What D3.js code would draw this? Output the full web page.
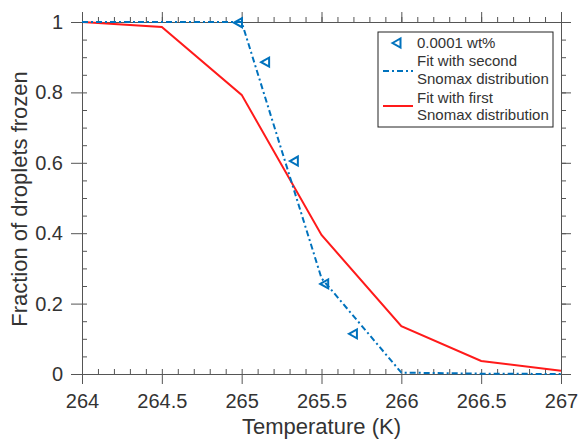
<!DOCTYPE html>
<html>
<head>
<meta charset="utf-8">
<script src="https://cdn.jsdelivr.net/npm/d3@7"></script>
<style>
  body { margin: 0; background: #fff; }
  svg text { font-family: "Liberation Sans", Arial, sans-serif; fill: #333; }
</style>
</head>
<body>
<div id="chart"></div>
<script>
// data
var temps = [264, 264.5, 265, 265.5, 266, 266.5, 267];
var fitFirst = [1.0, 0.986, 0.793, 0.395, 0.136, 0.037, 0.009];
var fitSecond = [1.0, 1.0, 1.0, 0.272, 0.004, 0.001, 0.0];
var obsTemp = [264.98, 265.15, 265.33, 265.52, 265.70];
var obsFrac = [0.998, 0.886, 0.605, 0.256, 0.114];
var xTicks = [264, 264.5, 265, 265.5, 266, 266.5, 267];
var yTicks = [0, 0.2, 0.4, 0.6, 0.8, 1];
var legendLabels = [["0.0001 wt%"], ["Fit with second", "Snomax distribution"], ["Fit with first", "Snomax distribution"]];

var w = 579, h = 440;
var pLeft = 82, pRight = 561, pTop = 22, pBottom = 374;

var svg = d3.select("#chart").append("svg").attr("width", w).attr("height", h);

var x = d3.scaleLinear().domain([264, 267]).range([pLeft, pRight]);
var y = d3.scaleLinear().domain([0, 1]).range([pBottom, pTop]);

var xMinor = d3.range(264, 267.001, 0.1).map(function (d) { return +d.toFixed(1); });
var yMinor = d3.range(0, 1.001, 0.05).map(function (d) { return +d.toFixed(2); });

function style(g) {
  g.select(".domain").attr("stroke", "#555");
  g.selectAll("line").attr("stroke", "#555");
}

// bottom
svg.append("g").attr("transform", "translate(0," + pBottom + ")")
  .call(d3.axisBottom(x).tickValues(xMinor).tickSize(-5).tickSizeOuter(0).tickFormat(""))
  .call(style);
svg.append("g").attr("transform", "translate(0," + pBottom + ")")
  .call(d3.axisBottom(x).tickValues(xTicks).tickSize(10).tickSizeOuter(0).tickPadding(10)
    .tickFormat(function (d) { return String(d); }))
  .call(style)
  .selectAll("text").style("font-size", "20px");
// top
svg.append("g").attr("transform", "translate(0," + pTop + ")")
  .call(d3.axisTop(x).tickValues(xMinor).tickSize(5).tickSizeOuter(0).tickFormat(""))
  .call(style);
svg.append("g").attr("transform", "translate(0," + pTop + ")")
  .call(d3.axisTop(x).tickValues(xTicks).tickSize(10).tickSizeOuter(0).tickFormat(""))
  .call(style);
// left
svg.append("g").attr("transform", "translate(" + pLeft + ",0)")
  .call(d3.axisLeft(y).tickValues(yMinor).tickSize(-5).tickSizeOuter(0).tickFormat(""))
  .call(style);
svg.append("g").attr("transform", "translate(" + pLeft + ",0)")
  .call(d3.axisLeft(y).tickValues(yTicks).tickSize(11).tickSizeOuter(0).tickPadding(8)
    .tickFormat(function (d) { return String(d); }))
  .call(style)
  .selectAll("text").style("font-size", "20px");
// right
svg.append("g").attr("transform", "translate(" + pRight + ",0)")
  .call(d3.axisRight(y).tickValues(yMinor).tickSize(5).tickSizeOuter(0).tickFormat(""))
  .call(style);
svg.append("g").attr("transform", "translate(" + pRight + ",0)")
  .call(d3.axisRight(y).tickValues(yTicks).tickSize(10).tickSizeOuter(0).tickFormat(""))
  .call(style);

var line = d3.line()
  .x(function (d) { return x(d[0]); })
  .y(function (d) { return y(d[1]); });

// red fit
svg.append("path")
  .datum(d3.zip(temps, fitFirst))
  .attr("fill", "none")
  .attr("stroke", "#ff1a1a")
  .attr("stroke-width", 2)
  .attr("d", line);

// blue dash-dot fit
svg.append("path")
  .datum(d3.zip(temps, fitSecond))
  .attr("fill", "none")
  .attr("stroke", "#0072bd")
  .attr("stroke-width", 2)
  .attr("stroke-dasharray", "6,3,2,3")
  .attr("d", line);

// triangle markers (pointing left)
function tri(cx, cy) {
  return "M" + (cx - 4.5) + "," + cy + "L" + (cx + 3.5) + "," + (cy - 4.5) +
    "L" + (cx + 3.5) + "," + (cy + 4.5) + "Z";
}
svg.selectAll(".obs")
  .data(d3.zip(obsTemp, obsFrac))
  .enter()
  .append("path")
  .attr("class", "obs")
  .attr("d", function (d) { return tri(x(d[0]), y(d[1])); })
  .attr("fill", "none")
  .attr("stroke", "#0072bd")
  .attr("stroke-width", 2);

// axis titles
svg.append("text")
  .attr("x", (pLeft + pRight) / 2)
  .attr("y", 434)
  .attr("text-anchor", "middle")
  .style("font-size", "22px")
  .text("Temperature (K)");
svg.append("text")
  .attr("transform", "translate(27," + 199 + ") rotate(-90)")
  .attr("text-anchor", "middle")
  .style("font-size", "22px")
  .text("Fraction of droplets frozen");

// legend
var lg = svg.append("g");
lg.append("rect")
  .attr("x", 378).attr("y", 32).attr("width", 175).attr("height", 95)
  .attr("fill", "#fff").attr("stroke", "#222").attr("stroke-width", 1);
lg.append("path")
  .attr("d", tri(397, 43))
  .attr("fill", "none").attr("stroke", "#0072bd").attr("stroke-width", 2);
lg.append("line")
  .attr("x1", 383).attr("x2", 413).attr("y1", 71).attr("y2", 71)
  .attr("stroke", "#0072bd").attr("stroke-width", 2).attr("stroke-dasharray", "6,3,2,3");
lg.append("line")
  .attr("x1", 383).attr("x2", 413).attr("y1", 106).attr("y2", 106)
  .attr("stroke", "#ff1a1a").attr("stroke-width", 2);
var rows = [[48], [66, 84], [103, 120]];
legendLabels.forEach(function (lines, i) {
  lines.forEach(function (t, j) {
    lg.append("text")
      .attr("x", 417).attr("y", rows[i][j])
      .style("font-size", "15px")
      .text(t);
  });
});
</script>
</body>
</html>
